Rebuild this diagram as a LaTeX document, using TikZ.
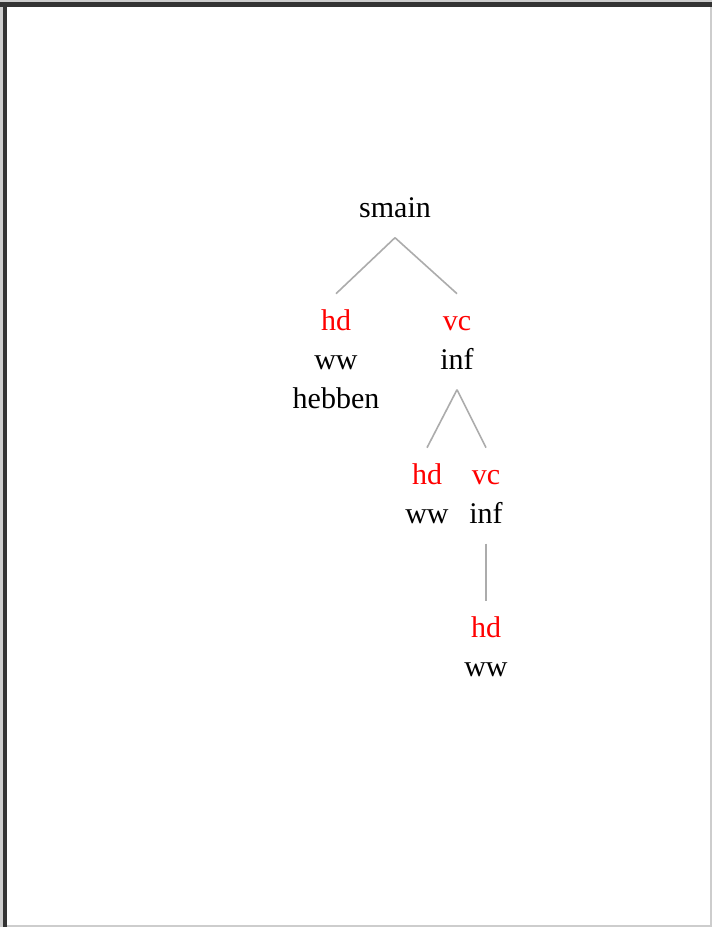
\documentclass[tikz,border=0pt]{standalone}
\usepackage{fontspec}
\setmainfont{Liberation Serif}
\definecolor{framedark}{RGB}{51,51,51}
\definecolor{framelight}{RGB}{205,205,205}
\definecolor{edgegrey}{RGB}{172,172,172}
\definecolor{labelred}{RGB}{255,0,0}

\tikzset{
  tnode/.style={inner sep=0pt, outer xsep=0pt, outer ysep=9pt, anchor=north,
    align=center, font=\fontsize{30}{39}\selectfont},
  branch/.style={draw=edgegrey, line width=1.6pt},
}
\newcommand{\fnlabel}[1]{\textcolor{labelred}{#1}}

\begin{document}
\begin{tikzpicture}[x=1pt,y=-1pt]
\useasboundingbox (0,0) rectangle (712,927);
\fill[white] (0,0) rectangle (712,927);
% frame
\fill[framelight] (0,0) rectangle (712,2);
\fill[framelight] (0,0) rectangle (2.7,927);
\fill[framedark] (0,1.7) rectangle (712,6.7);
\fill[framedark] (2.7,1.7) rectangle (6.7,927);
\fill[framelight] (709.5,6.7) rectangle (711.5,927);
\fill[framelight] (6.7,924.5) rectangle (712,927);

% tree
\node[tnode] (smain) at (395,180.7) {smain\strut};
\node[tnode] (hdA) at (336,293.7) {\fnlabel{hd}\strut\\ww\strut\\hebben\strut};
\node[tnode] (vcA) at (457,293.7) {\fnlabel{vc}\strut\\inf\strut};
\node[tnode] (hdB) at (427,447.7) {\fnlabel{hd}\strut\\ww\strut};
\node[tnode] (vcB) at (486,447.7) {\fnlabel{vc}\strut\\inf\strut};
\node[tnode] (hdC) at (486,600.7) {\fnlabel{hd}\strut\\ww\strut};

\draw[branch] (smain.south) -- (hdA.north);
\draw[branch] (smain.south) -- (vcA.north);
\draw[branch] (vcA.south) -- (hdB.north);
\draw[branch] (vcA.south) -- (vcB.north);
\draw[branch] (vcB.south) -- (hdC.north);
\end{tikzpicture}
\end{document}
